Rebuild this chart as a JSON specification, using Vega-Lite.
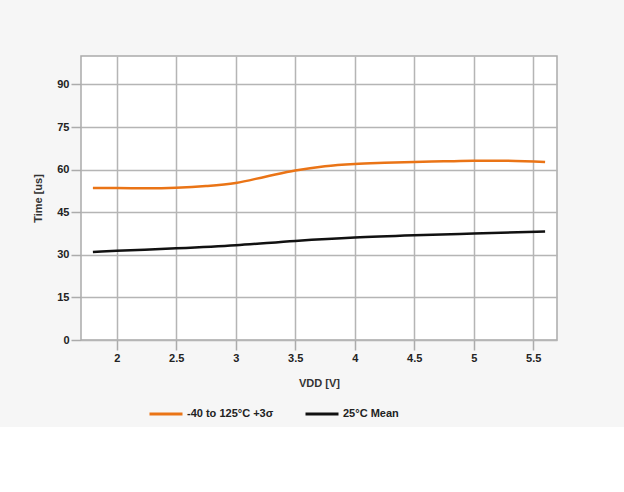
{
  "$schema": "https://vega.github.io/schema/vega-lite/v6.json",
  "autosize": "none",
  "width": 476,
  "height": 284,
  "padding": {"left": 81, "top": 56, "right": 67, "bottom": 87},
  "background": "#f6f6f6",
  "config": {
    "view": {"stroke": "#ababab", "strokeWidth": 1.5, "fill": "#ffffff"},
    "font": "Liberation Sans",
    "axis": {
      "labelFont": "Liberation Sans",
      "labelFontWeight": "bold",
      "labelFontSize": 11,
      "labelColor": "#222222",
      "titleFont": "Liberation Sans",
      "titleFontWeight": "bold",
      "titleFontSize": 11,
      "titleColor": "#333333",
      "gridColor": "#b5b5b5",
      "gridWidth": 1.5,
      "tickColor": "#ababab",
      "tickWidth": 1.5,
      "tickSize": 10,
      "domain": false
    },
    "legend": {
      "labelFont": "Liberation Sans",
      "labelFontWeight": "bold",
      "labelFontSize": 11,
      "labelColor": "#222222"
    }
  },
  "data": {
    "values": [
      {"vdd": 1.8, "time": 53.5, "series": "-40 to 125°C +3σ"},
      {"vdd": 2.0, "time": 53.5, "series": "-40 to 125°C +3σ"},
      {"vdd": 2.25, "time": 53.4, "series": "-40 to 125°C +3σ"},
      {"vdd": 2.5, "time": 53.6, "series": "-40 to 125°C +3σ"},
      {"vdd": 2.75, "time": 54.2, "series": "-40 to 125°C +3σ"},
      {"vdd": 3.0, "time": 55.3, "series": "-40 to 125°C +3σ"},
      {"vdd": 3.25, "time": 57.5, "series": "-40 to 125°C +3σ"},
      {"vdd": 3.5, "time": 59.7, "series": "-40 to 125°C +3σ"},
      {"vdd": 3.75, "time": 61.2, "series": "-40 to 125°C +3σ"},
      {"vdd": 4.0, "time": 62.0, "series": "-40 to 125°C +3σ"},
      {"vdd": 4.25, "time": 62.4, "series": "-40 to 125°C +3σ"},
      {"vdd": 4.5, "time": 62.7, "series": "-40 to 125°C +3σ"},
      {"vdd": 4.75, "time": 62.9, "series": "-40 to 125°C +3σ"},
      {"vdd": 5.0, "time": 63.1, "series": "-40 to 125°C +3σ"},
      {"vdd": 5.25, "time": 63.1, "series": "-40 to 125°C +3σ"},
      {"vdd": 5.6, "time": 62.7, "series": "-40 to 125°C +3σ"},
      {"vdd": 1.8, "time": 31.0, "series": "25°C Mean"},
      {"vdd": 2.0, "time": 31.4, "series": "25°C Mean"},
      {"vdd": 2.5, "time": 32.3, "series": "25°C Mean"},
      {"vdd": 3.0, "time": 33.4, "series": "25°C Mean"},
      {"vdd": 3.5, "time": 34.9, "series": "25°C Mean"},
      {"vdd": 4.0, "time": 36.1, "series": "25°C Mean"},
      {"vdd": 4.5, "time": 36.9, "series": "25°C Mean"},
      {"vdd": 5.0, "time": 37.5, "series": "25°C Mean"},
      {"vdd": 5.6, "time": 38.2, "series": "25°C Mean"}
    ]
  },
  "mark": {"type": "line", "interpolate": "monotone", "strokeWidth": 2.5},
  "encoding": {
    "x": {
      "field": "vdd",
      "type": "quantitative",
      "scale": {"domain": [1.7, 5.7], "nice": false, "zero": false},
      "axis": {"values": [2, 2.5, 3, 3.5, 4, 4.5, 5, 5.5], "format": "~g", "title": "VDD [V]", "titlePadding": 14, "labelPadding": 2}
    },
    "y": {
      "field": "time",
      "type": "quantitative",
      "scale": {"domain": [0, 100], "nice": false},
      "axis": {"values": [0, 15, 30, 45, 60, 75, 90], "title": "Time [us]", "titlePadding": 13, "labelPadding": 2}
    },
    "color": {
      "field": "series",
      "type": "nominal",
      "scale": {"domain": ["-40 to 125°C +3σ", "25°C Mean"], "range": ["#ea7416", "#111111"]},
      "legend": {
        "title": null,
        "orient": "none",
        "direction": "horizontal",
        "legendX": 67,
        "legendY": 340,
        "symbolType": "stroke",
        "symbolSize": 1089,
        "symbolStrokeWidth": 3,
        "columnPadding": 25,
        "labelOffset": 3
      }
    }
  }
}
